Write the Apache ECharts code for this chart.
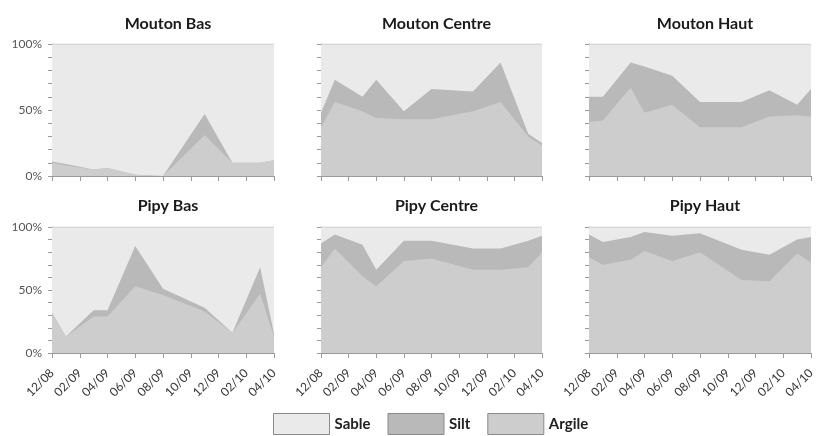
<!DOCTYPE html>
<html>
<head>
<meta charset="utf-8">
<script src="https://cdn.jsdelivr.net/npm/echarts@6/dist/echarts.min.js"></script>
<style>
  html, body { margin: 0; padding: 0; background: #fff; }
  #chart { width: 818px; height: 436px; }
</style>
</head>
<body>
<div id="chart"></div>
<script>
// Sampling campaigns (year-month)
const sampleDates = ['2008-12', '2009-01', '2009-03', '2009-04', '2009-06',
                     '2009-08', '2009-11', '2010-01', '2010-03', '2010-04'];
const tickLabels = ['12/08', '02/09', '04/09', '06/09', '08/09', '10/09', '12/09', '02/10', '04/10'];

const stations = ['Mouton Bas', 'Mouton Centre', 'Mouton Haut', 'Pipy Bas', 'Pipy Centre', 'Pipy Haut'];

// Grain-size fractions, % of sample (sable = remainder to 100 %)
const argileMoutonBas    = [10, 8, 5, 6, 1, 0, 31, 10, 10, 12];
const siltMoutonBas      = [1, 1, 0, 0, 0, 0, 16, 0, 0, 0];
const argileMoutonCentre = [37, 56, 49, 44, 43, 43, 49, 56, 30, 23];
const siltMoutonCentre   = [11, 17, 11, 29, 6, 23, 15, 30, 2, 2];
const argileMoutonHaut   = [41, 42, 67, 48, 54, 37, 37, 45, 46, 45];
const siltMoutonHaut     = [19, 18, 19, 35, 22, 19, 19, 20, 8, 21];
const argilePipyBas      = [31, 13, 29, 29, 53, 46, 33, 16, 47, 13];
const siltPipyBas        = [1, 0, 5, 5, 32, 5, 3, 0, 21, 2];
const argilePipyCentre   = [68, 83, 61, 53, 73, 75, 66, 66, 68, 80];
const siltPipyCentre     = [19, 11, 25, 13, 16, 14, 17, 17, 21, 13];
const argilePipyHaut     = [76, 70, 74, 81, 73, 80, 58, 57, 79, 72];
const siltPipyHaut       = [18, 18, 18, 15, 20, 15, 24, 21, 11, 20];

const argileByStation = [argileMoutonBas, argileMoutonCentre, argileMoutonHaut,
                         argilePipyBas, argilePipyCentre, argilePipyHaut];
const siltByStation = [siltMoutonBas, siltMoutonCentre, siltMoutonHaut,
                       siltPipyBas, siltPipyCentre, siltPipyHaut];

// month offset from December 2008
const monthIndex = sampleDates.map(d => {
  const [y, m] = d.split('-').map(Number);
  return (y - 2008) * 12 + (m - 12);
});

const colors = { Sable: '#eaeaea', Silt: '#b9b9b9', Argile: '#cdcdcd' };
const FONT = 'Lato, "Open Sans", sans-serif';

const gridLeft = [52, 321, 589];
const gridWidth = [222, 221, 222];
const gridTop = [44, 227];
const gridHeight = [132, 126];
const titleTop = [11, 193];

const grids = [], xAxes = [], yAxes = [], titles = [], series = [];

stations.forEach((name, i) => {
  const row = Math.floor(i / 3), col = i % 3;
  grids.push({ left: gridLeft[col], top: gridTop[row], width: gridWidth[col], height: gridHeight[row] });
  titles.push({
    text: name,
    left: gridLeft[col] + gridWidth[col] / 2,
    top: titleTop[row],
    textAlign: 'center',
    textStyle: { fontFamily: FONT, fontSize: 16, fontWeight: 'bold', color: '#1a1a1a' }
  });
  xAxes.push({
    gridIndex: i, type: 'value', min: 0, max: 16, interval: 2,
    axisLine: { lineStyle: { color: '#9a9a9a', width: 1 } },
    axisTick: { show: true, length: 5, lineStyle: { color: '#9a9a9a' } },
    splitLine: { show: false },
    axisLabel: {
      show: row === 1, rotate: 45, margin: 18,
      fontFamily: FONT, fontSize: 12, color: '#333',
      formatter: v => tickLabels[v / 2]
    }
  });
  yAxes.push({
    gridIndex: i, type: 'value', min: 0, max: 100, interval: 10,
    axisLine: { show: true, lineStyle: { color: '#9a9a9a', width: 1 } },
    axisTick: { show: true, length: 4, lineStyle: { color: '#9a9a9a' } },
    splitLine: { show: false },
    axisLabel: {
      show: col === 0, margin: 10,
      fontFamily: FONT, fontSize: 12, color: '#555',
      formatter: v => (v % 50 === 0 ? v + '%' : '')
    }
  });

  // cumulative boundaries: argile at the bottom, silt above, sable up to 100 %
  const argile = argileByStation[i];
  const silt = siltByStation[i];
  const sable = argile.map((a, k) => 100 - a - silt[k]);
  const argileTop = argile;
  const siltTop = argile.map((a, k) => a + silt[k]);
  const sableTop = siltTop.map((s, k) => s + sable[k]);

  // drawn back to front, each area filled down to 0 %
  [['Sable', sableTop], ['Silt', siltTop], ['Argile', argileTop]].forEach(([fname, vals]) => {
    series.push({
      name: fname,
      type: 'line',
      xAxisIndex: i,
      yAxisIndex: i,
      symbol: 'none',
      smooth: false,
      itemStyle: { color: colors[fname] },
      lineStyle: fname === 'Sable' ? { width: 1, color: '#c4c4c4' } : { width: 0 },
      areaStyle: { color: colors[fname], opacity: 1 },
      data: vals.map((v, k) => [monthIndex[k], v])
    });
  });
});

const chart = echarts.init(document.getElementById('chart'), null, { renderer: 'canvas' });
chart.setOption({
  animation: false,
  backgroundColor: '#ffffff',
  title: titles,
  grid: grids,
  xAxis: xAxes,
  yAxis: yAxes,
  legend: {
    data: ['Sable', 'Silt', 'Argile'],
    left: 273,
    top: 413,
    padding: 0,
    icon: 'rect',
    itemWidth: 56,
    itemHeight: 21,
    itemGap: 17,
    itemStyle: { borderColor: '#8a8a8a', borderWidth: 1 },
    textStyle: { fontFamily: FONT, fontSize: 15, fontWeight: 'bold', color: '#222' }
  },
  series: series
});
</script>
</body>
</html>
